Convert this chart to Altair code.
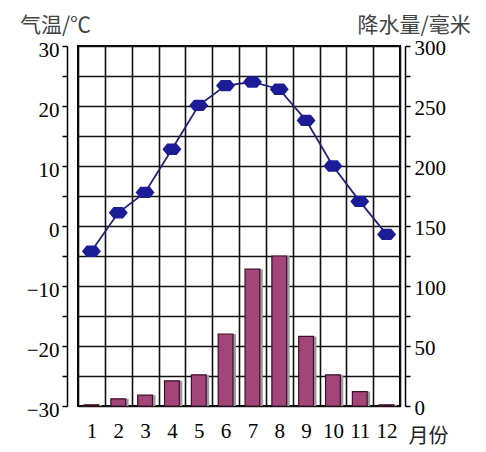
import altair as alt
import pandas as pd

months = ["1", "2", "3", "4", "5", "6", "7", "8", "9", "10", "11", "12"]
temperature = [-4.2, 2.2, 5.6, 12.8, 20.1, 23.4, 24.0, 22.8, 17.6, 10.0, 4.1, -1.4]
precipitation = [1, 6, 9, 21, 26, 60, 114, 125, 58, 26, 12, 1]

df = pd.DataFrame({"month": months, "temp": temperature, "precip": precipitation})

SERIF = "Liberation Serif"
CJK = "Noto Sans CJK SC"

x_enc = alt.X(
    "month:O",
    sort=months,
    scale=alt.Scale(paddingInner=0, paddingOuter=0),
    axis=alt.Axis(
        title="月份",
        titleFont=CJK,
        titleFontSize=20,
        titleFontWeight="normal",
        titleColor="#222",
        titleAngle=0,
        titleAlign="left",
        titleBaseline="middle",
        titleX=330,
        titleY=30,
        labelAngle=0,
        labelFont=SERIF,
        labelFontSize=21,
        labelColor="black",
        labelPadding=14,
        ticks=False,
        domain=False,
        grid=True,
        gridColor="#111",
        gridWidth=1.6,
        gridOpacity=1,
        tickBand="extent",
    ),
)

precip_y = alt.Y(
    "precip:Q",
    scale=alt.Scale(domain=[0, 300], nice=False),
    axis=alt.Axis(
        orient="right",
        title="降水量/毫米",
        titleFont=CJK,
        titleFontSize=21,
        titleFontWeight="normal",
        titleColor="#444",
        titleAngle=0,
        titleAlign="left",
        titleBaseline="middle",
        titleX=-48,
        titleY=-21,
        values=list(range(0, 301, 25)),
        labelExpr="datum.value % 50 == 0 ? datum.label : ''",
        labelFont=SERIF,
        labelFontSize=21,
        labelColor="black",
        labelOffset=2,
        labelPadding=4,
        grid=False,
        offset=5,
        domainColor="black",
        domainWidth=1.5,
        tickColor="black",
        tickSize=5,
        tickWidth=1.5,
    ),
)

temp_y = alt.Y(
    "temp:Q",
    scale=alt.Scale(domain=[-30, 30], nice=False),
    axis=alt.Axis(
        orient="left",
        title="气温/℃",
        titleFont=CJK,
        titleFontSize=21,
        titleFontWeight="normal",
        titleColor="#444",
        titleAngle=0,
        titleAlign="center",
        titleBaseline="middle",
        titleX=-12,
        titleY=-21,
        values=list(range(-30, 31, 5)),
        labelExpr="datum.value % 10 == 0 ? datum.label : ''",
        labelFont=SERIF,
        labelFontSize=21,
        labelColor="black",
        labelOffset=4,
        labelPadding=3,
        grid=True,
        gridColor="#111",
        gridWidth=1.6,
        gridOpacity=1,
        offset=11,
        domainColor="black",
        domainWidth=1.5,
        tickColor="black",
        tickSize=5,
        tickWidth=1.5,
    ),
)

base = alt.Chart(df)

shadow = base.mark_bar(color="#9a9a9a", width={"band": 0.55}, xOffset=3).encode(
    x=x_enc, y=precip_y
)
bars = base.mark_bar(
    color="#a4457a", stroke="#3a1028", strokeWidth=1.2, width={"band": 0.55}
).encode(x=x_enc, y=precip_y)

line = base.mark_line(color="#23237a", strokeWidth=1.8).encode(x=x_enc, y=temp_y)
points = base.mark_point(
    shape="M-1,0 L-0.5,-0.6 L0.5,-0.6 L1,0 L0.5,0.6 L-0.5,0.6 Z",
    size=360,
    filled=True,
    color="#1c1c96",
    opacity=1,
).encode(x=x_enc, y=temp_y)

chart = (
    alt.layer(alt.layer(shadow, bars), alt.layer(line, points))
    .resolve_scale(y="independent")
    .properties(
        width=322,
        height=360,
        autosize=alt.AutoSizeParams(type="none"),
        padding={"left": 70, "top": 38, "right": 78, "bottom": 44},
        background="white",
    )
    .configure_view(stroke="black", strokeWidth=2)
)

chart.save("out.html", embed_options={"renderer": "svg", "actions": False})
